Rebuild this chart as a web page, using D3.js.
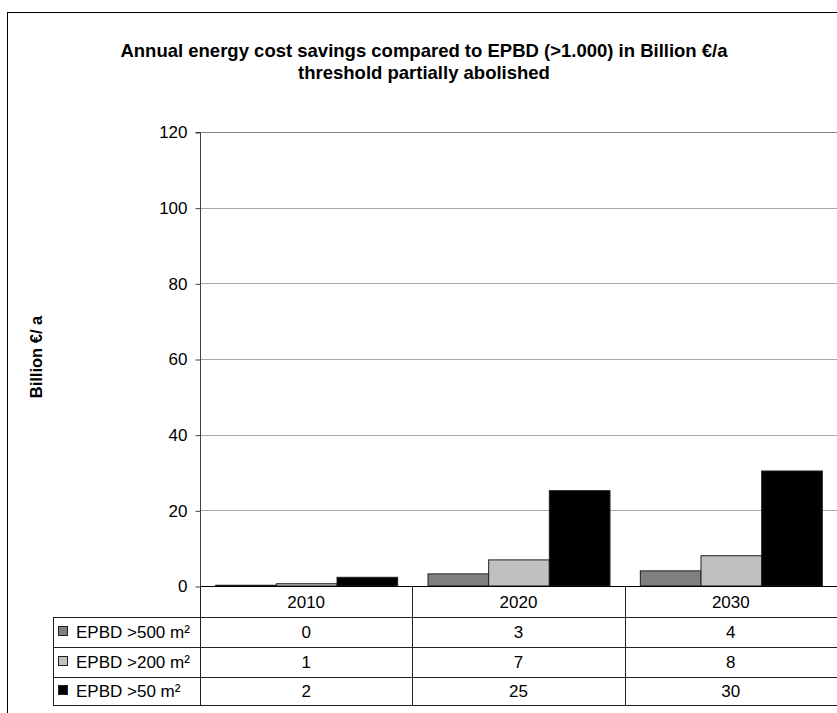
<!DOCTYPE html>
<html><head><meta charset="utf-8">
<script src="https://cdn.jsdelivr.net/npm/d3@7"></script>
<style>body{margin:0;background:#fff;}svg{display:block;font-family:"Liberation Sans",Arial,sans-serif;}</style>
</head><body><svg id="c" width="837" height="713"></svg>
<script>
const categories = ["2010", "2020", "2030"];
const seriesNames = ["EPBD >500 m²", "EPBD >200 m²", "EPBD >50 m²"];
const values500 = [0.2, 3.2, 4.0];
const values200 = [0.6, 6.9, 8.0];
const values50 = [2.3, 25.2, 30.4];
const tableLabels500 = ["0", "3", "4"];
const tableLabels200 = ["1", "7", "8"];
const tableLabels50 = ["2", "25", "30"];
const yTicks = [0, 20, 40, 60, 80, 100, 120];
const titleLines = ["Annual energy cost savings compared to EPBD (>1.000) in Billion €/a", "threshold partially abolished"];
const yLabel = "Billion €/ a";
const colors = ["#808080", "#c0c0c0", "#000000"];

const series = [values500, values200, values50];
const tableLabels = [tableLabels500, tableLabels200, tableLabels50];

const svg = d3.select("#c");
const L = 200, R = 837, T = 132, B = 586;
const FS = 17;

// outer chart border (only left/top visible)
svg.append("rect").attr("x", 7.5).attr("y", 12.5).attr("width", 900).attr("height", 800)
  .attr("fill", "none").attr("stroke", "#000").attr("stroke-width", 1);

// title
svg.append("g").selectAll("text").data(titleLines).join("text")
  .attr("x", 424).attr("y", (d, i) => 57 + i * 22)
  .attr("text-anchor", "middle").attr("font-weight", "bold").attr("font-size", 18.5)
  .text(d => d);

const y = d3.scaleLinear().domain([0, 120]).range([B, T]);
const x0 = d3.scaleBand().domain(categories).range([L, R]).paddingInner(0).paddingOuter(0);
const x1 = d3.scaleBand().domain(d3.range(3)).range([0, x0.bandwidth()]).paddingInner(0).paddingOuter(0.25);

// gridlines
svg.append("g").selectAll("line").data(yTicks.filter(t => t > 0)).join("line")
  .attr("x1", L).attr("x2", R).attr("y1", d => Math.round(y(d)) + 0.5).attr("y2", d => Math.round(y(d)) + 0.5)
  .attr("stroke", d => d === 120 ? "#808080" : "#a8a8a8").attr("stroke-width", 1);

// y axis
const yAxis = d3.axisLeft(y).tickValues(yTicks).tickSize(5).tickPadding(8).tickFormat(d3.format("d"));
const ga = svg.append("g").attr("transform", `translate(${L + 0.5},0.5)`).call(yAxis);
ga.select(".domain").attr("stroke", "#404040").attr("d", `M-5,${T}H0V${B}`);
ga.selectAll(".tick line").attr("stroke", "#404040");
ga.selectAll(".tick text").attr("font-size", FS).attr("fill", "#000")
  .attr("font-family", '"Liberation Sans",Arial,sans-serif');

// y label
svg.append("text").attr("transform", "translate(42,357) rotate(-90)")
  .attr("text-anchor", "middle").attr("font-weight", "bold").attr("font-size", 16.5).text(yLabel);

// bars
const gBars = svg.append("g");
series.forEach((vals, si) => {
  gBars.append("g").selectAll("rect").data(vals).join("rect")
    .attr("x", (d, i) => x0(categories[i]) + x1(si) + 0.5)
    .attr("y", d => y(d))
    .attr("width", x1.bandwidth())
    .attr("height", d => B - y(d))
    .attr("fill", colors[si]).attr("stroke", "#202020").attr("stroke-width", 1);
});

// zero axis line
svg.append("line").attr("x1", L).attr("x2", R).attr("y1", B + 0.5).attr("y2", B + 0.5).attr("stroke", "#000");

// data table
const rowH = [B, 617, 647, 677, 705];
const tLeft = 53;
const gT = svg.append("g");
gT.selectAll("line.h").data(rowH.slice(1)).join("line").attr("class", "h")
  .attr("x1", tLeft).attr("x2", R).attr("y1", d => d + 0.5).attr("y2", d => d + 0.5)
  .attr("stroke", "#202020");
gT.append("line").attr("x1", tLeft + 0.5).attr("x2", tLeft + 0.5).attr("y1", 617).attr("y2", 705).attr("stroke", "#202020");
gT.append("line").attr("x1", L + 0.5).attr("x2", L + 0.5).attr("y1", B).attr("y2", 705).attr("stroke", "#202020");
categories.forEach((c, i) => {
  const xe = Math.round(x0(c) + x0.bandwidth());
  gT.append("line").attr("x1", xe + 0.5).attr("x2", xe + 0.5).attr("y1", B).attr("y2", 705).attr("stroke", "#202020");
});
gT.selectAll("text.hd").data(categories).join("text").attr("class", "hd")
  .attr("x", d => x0(d) + x0.bandwidth() / 2).attr("y", (rowH[0] + rowH[1]) / 2 + 6)
  .attr("text-anchor", "middle").attr("font-size", FS).text(d => d);
seriesNames.forEach((name, si) => {
  const yc = (rowH[si + 1] + rowH[si + 2]) / 2;
  gT.append("rect").attr("x", 58.5).attr("y", yc - 5.5).attr("width", 9).attr("height", 9)
    .attr("fill", colors[si]).attr("stroke", "#202020");
  gT.append("text").attr("x", 76).attr("y", yc + 6).attr("font-size", FS).text(name);
  gT.append("g").selectAll("text").data(tableLabels[si]).join("text")
    .attr("x", (d, i) => x0(categories[i]) + x0.bandwidth() / 2).attr("y", yc + 6)
    .attr("text-anchor", "middle").attr("font-size", FS).text(d => d);
});
</script></body></html>
